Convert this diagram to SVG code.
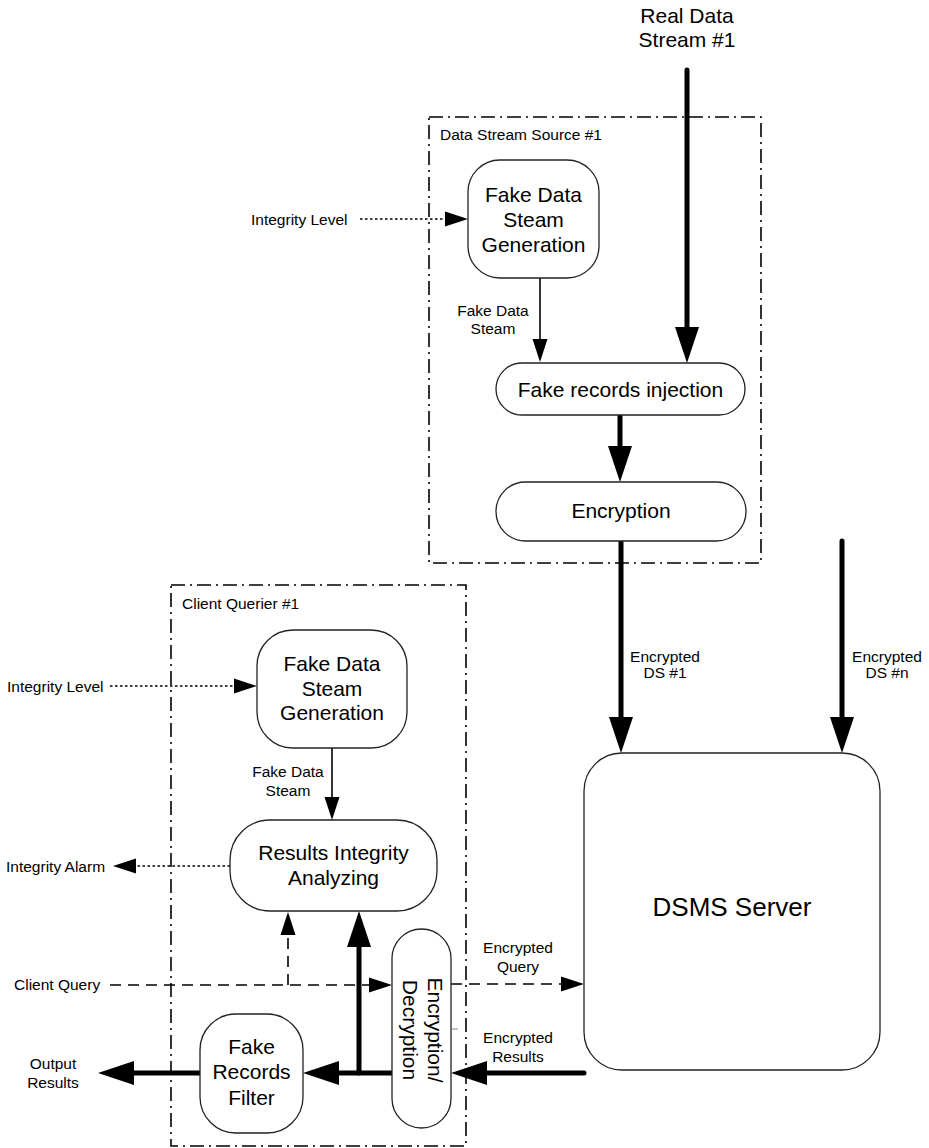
<svg xmlns="http://www.w3.org/2000/svg" width="929" height="1148" viewBox="0 0 929 1148">
<style>
text{font-family:"Liberation Sans",Arial,sans-serif;fill:#000}
.big{font-size:21px;text-anchor:middle}
.sm{font-size:15.5px}
.smc{font-size:15.5px;text-anchor:middle}
.node{fill:#fff;stroke:#222;stroke-width:1.3}
.box{fill:none;stroke:#000;stroke-width:1.6;stroke-dasharray:14 5 2 5}
.thick{fill:none;stroke:#000;stroke-width:5;stroke-linecap:round}
.thin{fill:none;stroke:#000;stroke-width:1.6}
.dot{fill:none;stroke:#000;stroke-width:1.6;stroke-dasharray:2.5 2.5}
.dash{fill:none;stroke:#000;stroke-width:1.6;stroke-dasharray:11 7}
</style>
<defs>
<marker id="ah-thick" viewBox="0 -12 36 24" refX="0" refY="0" markerWidth="36" markerHeight="24" markerUnits="userSpaceOnUse" orient="auto" overflow="visible"><path d="M0,-12 L36,0 L0,12 z" fill="#000"/></marker>
<marker id="ah-thin" viewBox="0 -7.5 23 15" refX="0" refY="0" markerWidth="23" markerHeight="15" markerUnits="userSpaceOnUse" orient="auto" overflow="visible"><path d="M0,-7.5 L23,0 L0,7.5 z" fill="#000"/></marker>
</defs>

<g id="container-source">
<rect class="box" x="429" y="117" width="332" height="446"/>
<text class="sm" x="440" y="140">Data Stream Source #1</text>
</g>
<g id="container-client">
<rect class="box" x="171" y="585" width="295" height="561"/>
<text class="sm" x="182" y="609">Client Querier #1</text>
</g>

<g id="connectors">
<!-- source side -->
<line class="thick" x1="687" y1="70" x2="687" y2="327" marker-end="url(#ah-thick)"/>
<line class="dot" x1="360" y1="219" x2="445" y2="219" marker-end="url(#ah-thin)"/>
<line class="thin" x1="540" y1="278" x2="540" y2="339" marker-end="url(#ah-thin)"/>
<line class="thick" x1="620" y1="416" x2="620" y2="446" marker-end="url(#ah-thick)"/>
<line class="thick" x1="621" y1="541" x2="621" y2="717" marker-end="url(#ah-thick)"/>
<line class="thick" x1="842" y1="541" x2="842" y2="717" marker-end="url(#ah-thick)"/>
<!-- client side -->
<line class="dot" x1="110" y1="686" x2="234" y2="686" marker-end="url(#ah-thin)"/>
<line class="thin" x1="332" y1="748" x2="332" y2="797" marker-end="url(#ah-thin)"/>
<line class="dot" x1="230" y1="866" x2="136" y2="866" marker-end="url(#ah-thin)"/>
<line class="dash" x1="110" y1="985" x2="369" y2="985" marker-end="url(#ah-thin)"/>
<polyline class="dash" points="288,985 288,935" marker-end="url(#ah-thin)"/>
<line class="thick" x1="359" y1="1073" x2="359" y2="947" marker-end="url(#ah-thick)"/>
<line class="thick" x1="392" y1="1073" x2="339" y2="1073" marker-end="url(#ah-thick)"/>
<line class="thick" x1="200" y1="1073" x2="134" y2="1073" marker-end="url(#ah-thick)"/>
<line class="dash" x1="451" y1="984" x2="561" y2="984" marker-end="url(#ah-thin)"/>
<line class="thick" x1="584" y1="1073" x2="487" y2="1073" marker-end="url(#ah-thick)"/>
<line x1="452" y1="1029" x2="458" y2="1029" stroke="#888" stroke-width="1"/>
</g>

<g id="label-real">
<text class="big" x="687" y="23">Real Data</text>
<text class="big" x="687" y="47">Stream #1</text>
</g>
<g id="label-integrity-level-1"><text class="sm" x="251" y="225">Integrity Level</text></g>
<g id="label-fds-1">
<text class="smc" x="493" y="316">Fake Data</text>
<text class="smc" x="493" y="334">Steam</text>
</g>
<g id="label-eds1">
<text class="smc" x="665" y="662">Encrypted</text>
<text class="smc" x="665" y="678">DS #1</text>
</g>
<g id="label-edsn">
<text class="smc" x="887" y="662">Encrypted</text>
<text class="smc" x="887" y="678">DS #n</text>
</g>
<g id="label-integrity-level-2"><text class="sm" x="7" y="692">Integrity Level</text></g>
<g id="label-fds-2">
<text class="smc" x="288" y="777">Fake Data</text>
<text class="smc" x="288" y="796">Steam</text>
</g>
<g id="label-alarm"><text class="sm" x="6" y="872">Integrity Alarm</text></g>
<g id="label-client-query"><text class="sm" x="14" y="990">Client Query</text></g>
<g id="label-output">
<text class="smc" x="53" y="1069">Output</text>
<text class="smc" x="53" y="1088">Results</text>
</g>
<g id="label-enc-query">
<text class="smc" x="518" y="953">Encrypted</text>
<text class="smc" x="518" y="972">Query</text>
</g>
<g id="label-enc-results">
<text class="smc" x="518" y="1043">Encrypted</text>
<text class="smc" x="518" y="1062">Results</text>
</g>

<g id="node-fdsg-1">
<rect class="node" x="468" y="160" width="131" height="118" rx="32"/>
<text class="big" x="533.5" y="202">Fake Data</text>
<text class="big" x="533.5" y="227">Steam</text>
<text class="big" x="533.5" y="252">Generation</text>
</g>
<g id="node-injection">
<rect class="node" x="496" y="363" width="249" height="52" rx="26"/>
<text class="big" x="620.5" y="397">Fake records injection</text>
</g>
<g id="node-encryption">
<rect class="node" x="496" y="482" width="250" height="59" rx="29.5"/>
<text class="big" x="621" y="518">Encryption</text>
</g>
<g id="node-dsms">
<rect class="node" x="584" y="753" width="296" height="317" rx="38"/>
<text x="732" y="916" style="font-size:26px;text-anchor:middle">DSMS Server</text>
</g>
<g id="node-fdsg-2">
<rect class="node" x="257" y="630" width="150" height="118" rx="36"/>
<text class="big" x="332" y="671">Fake Data</text>
<text class="big" x="332" y="696">Steam</text>
<text class="big" x="332" y="720">Generation</text>
</g>
<g id="node-ria">
<rect class="node" x="230" y="820" width="207" height="91" rx="40"/>
<text class="big" x="333.5" y="860">Results Integrity</text>
<text class="big" x="333.5" y="885">Analyzing</text>
</g>
<g id="node-encdec">
<rect class="node" x="392" y="929" width="59" height="199" rx="29.5"/>
<g transform="translate(421,1030) rotate(90)">
<text class="big" x="0" y="-7">Encryption/</text>
<text class="big" x="0" y="18">Decryption</text>
</g>
</g>
<g id="node-filter">
<rect class="node" x="200" y="1014" width="103" height="119" rx="36"/>
<text class="big" x="251.5" y="1054">Fake</text>
<text class="big" x="251.5" y="1079">Records</text>
<text class="big" x="251.5" y="1105">Filter</text>
</g>
</svg>
